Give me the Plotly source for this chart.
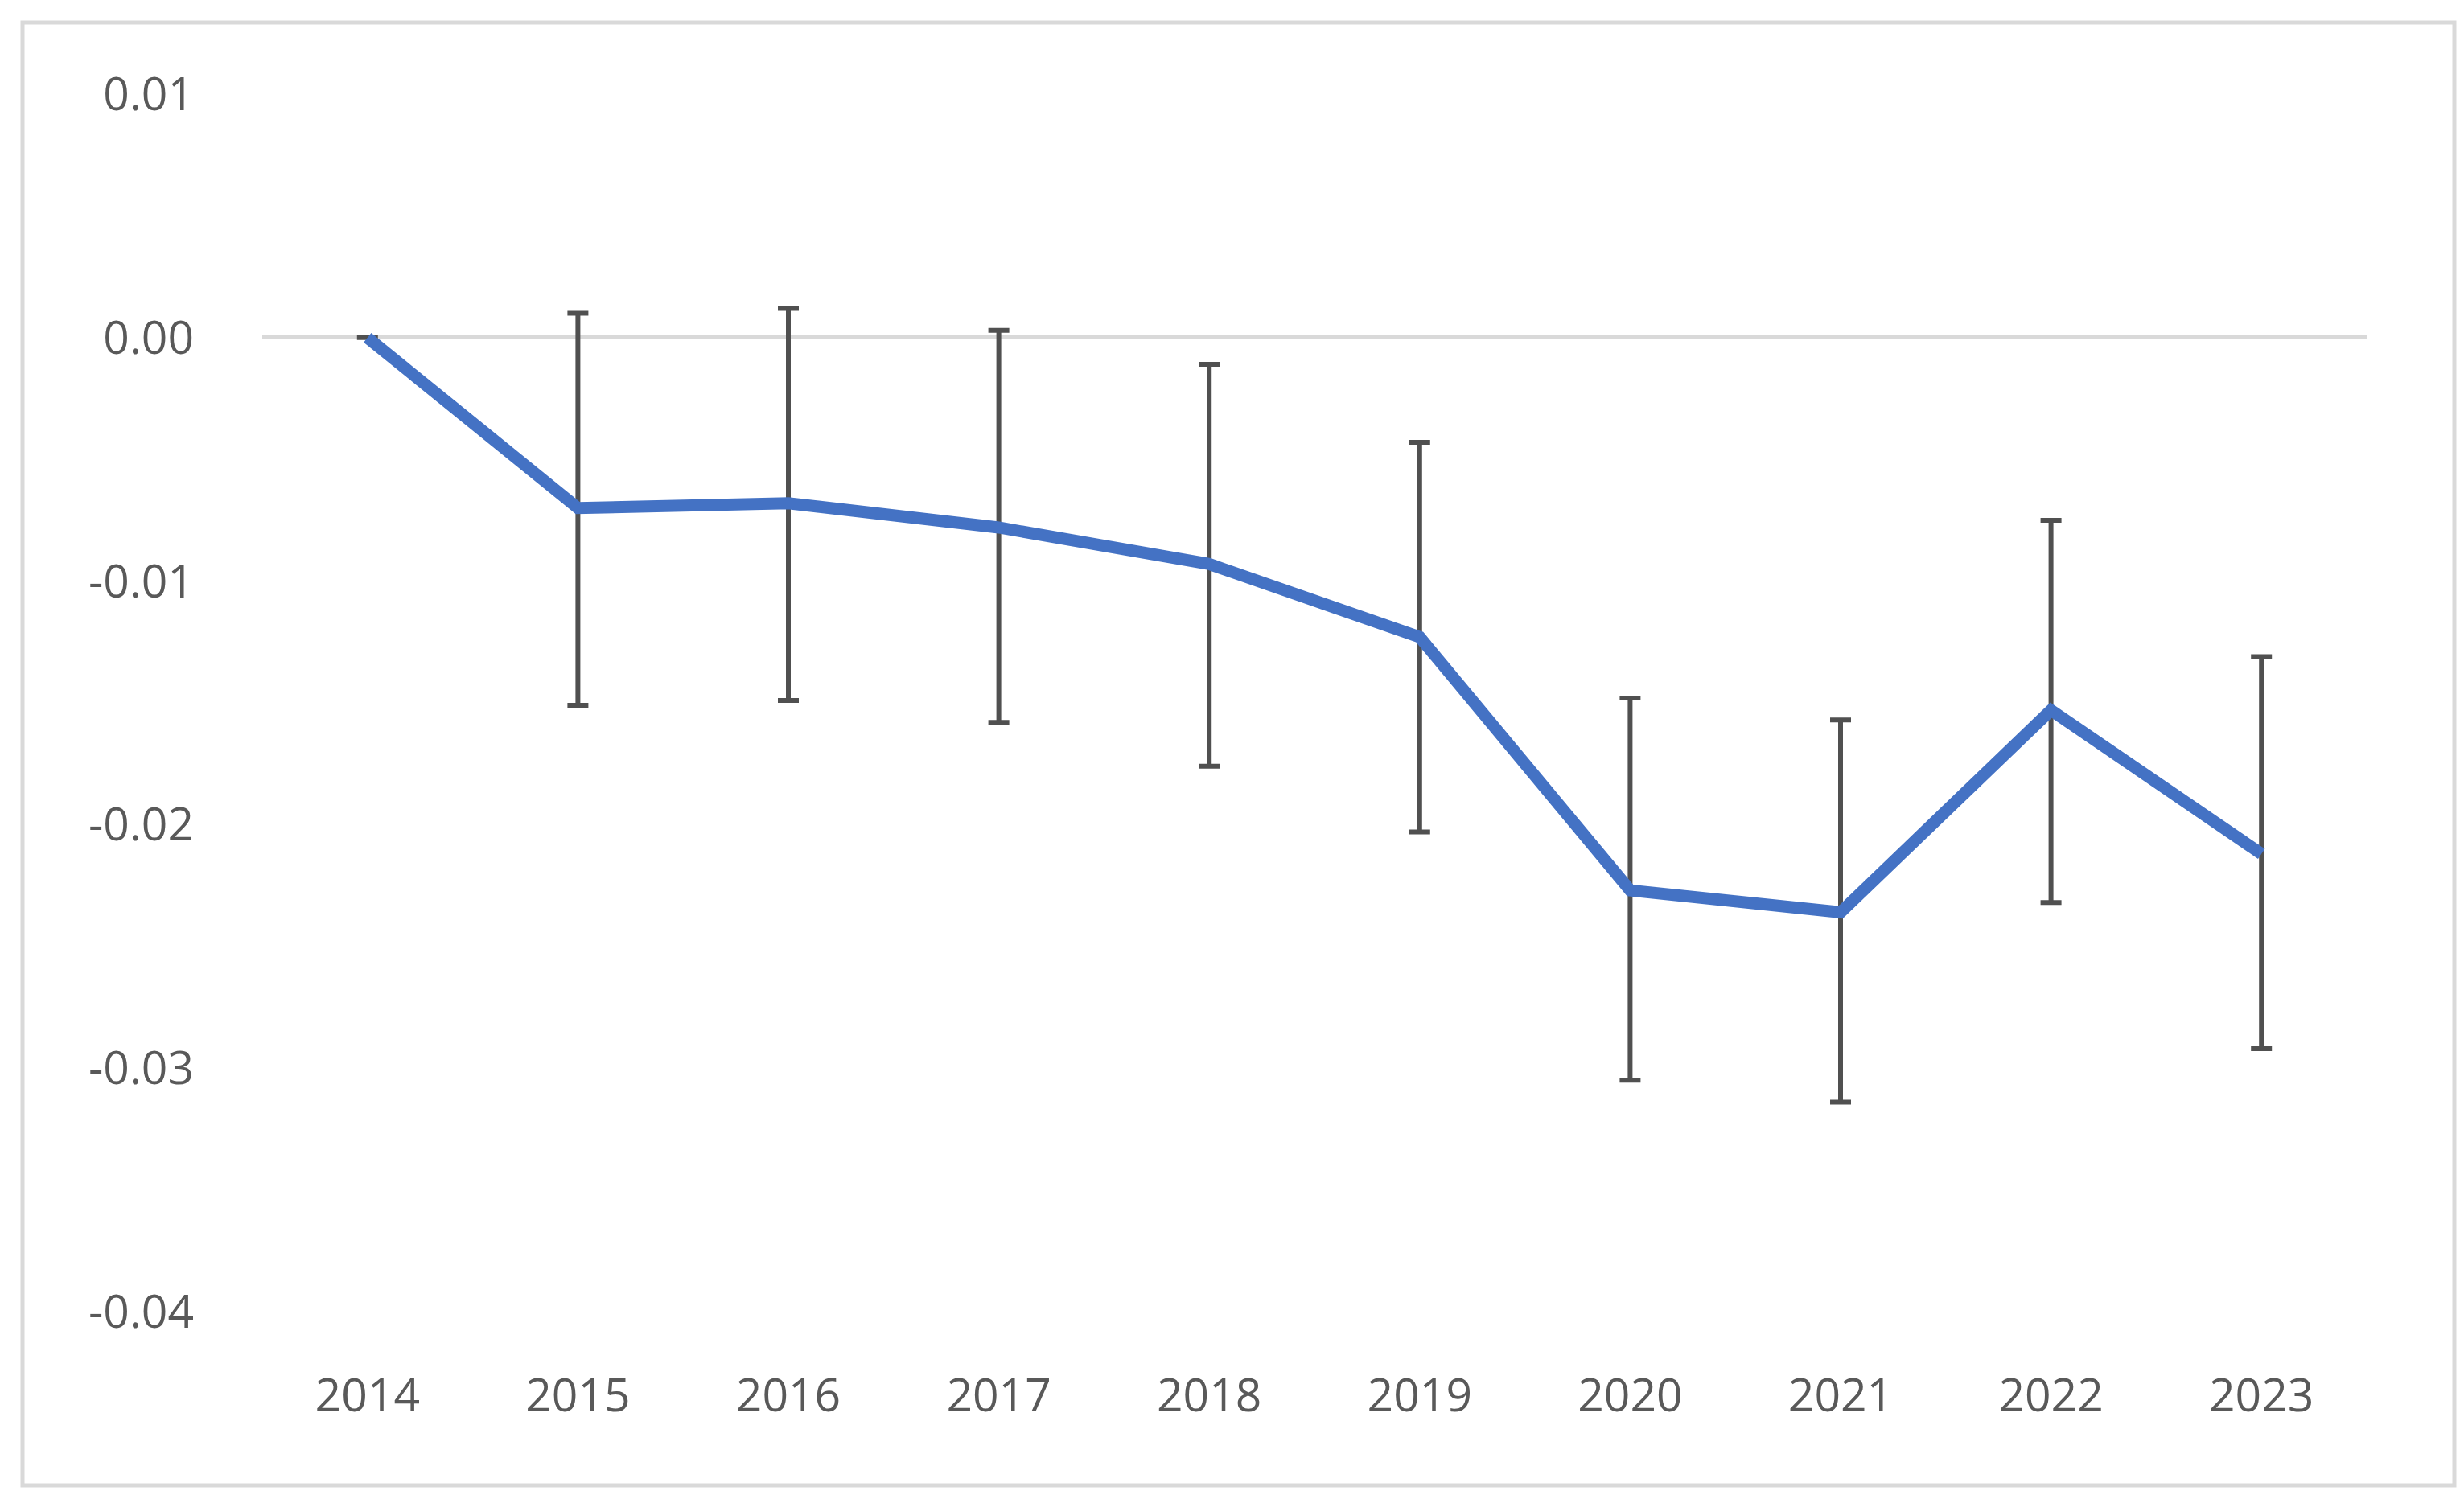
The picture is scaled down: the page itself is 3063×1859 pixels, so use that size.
import plotly.graph_objects as go

years = ["2014", "2015", "2016", "2017", "2018", "2019", "2020", "2021", "2022", "2023"]
values = [0.0, -0.0070, -0.0068, -0.0078, -0.0093, -0.0123, -0.0227, -0.0236, -0.0153, -0.0212]
err_plus = [0.0, 0.0080, 0.0080, 0.0081, 0.0082, 0.0080, 0.0079, 0.0079, 0.0078, 0.0081]
err_minus = [0.0, 0.0081, 0.0081, 0.0080, 0.0083, 0.0080, 0.0078, 0.0078, 0.0079, 0.0080]
y_ticks = [0.01, 0.0, -0.01, -0.02, -0.03, -0.04]
y_labels = ["0.01", "0.00", "-0.01", "-0.02", "-0.03", "-0.04"]

W, H = 3063, 1859
L, R, T, B = 318, 129, 109, 236
pw, ph = W - L - R, H - T - B

fig = go.Figure()
fig.add_trace(go.Scatter(
    x=years, y=values, mode="lines",
    line=dict(color="#4472C4", width=15),
    error_y=dict(type="data", symmetric=False, array=err_plus, arrayminus=err_minus,
                 color="#505050", thickness=6, width=13),
    showlegend=False))

# outer frame
fig.add_shape(type="rect", xref="paper", yref="paper",
              x0=(20 - L) / pw, x1=(W - 20 - L) / pw,
              y0=-(H - 20 - T - ph) / ph, y1=1 + (T - 20) / ph,
              line=dict(color="#D9D9D9", width=5))

font = dict(family="Open Sans, Liberation Sans, sans-serif", size=57, color="#595959")
fig.update_layout(
    width=W, height=H,
    margin=dict(l=L, r=R, t=T, b=B),
    paper_bgcolor="white", plot_bgcolor="white",
    font=font,
    xaxis=dict(type="category", showgrid=False, zeroline=False, showline=False,
               ticks="", tickfont=font, ticklabelstandoff=66),
    yaxis=dict(range=[-0.04, 0.01], tickvals=y_ticks, ticktext=y_labels,
               showgrid=False, zeroline=True, zerolinecolor="#D9D9D9", zerolinewidth=5,
               showline=False, ticks="", tickfont=font, ticklabelstandoff=84),
)

fig.write_html("out.html")
